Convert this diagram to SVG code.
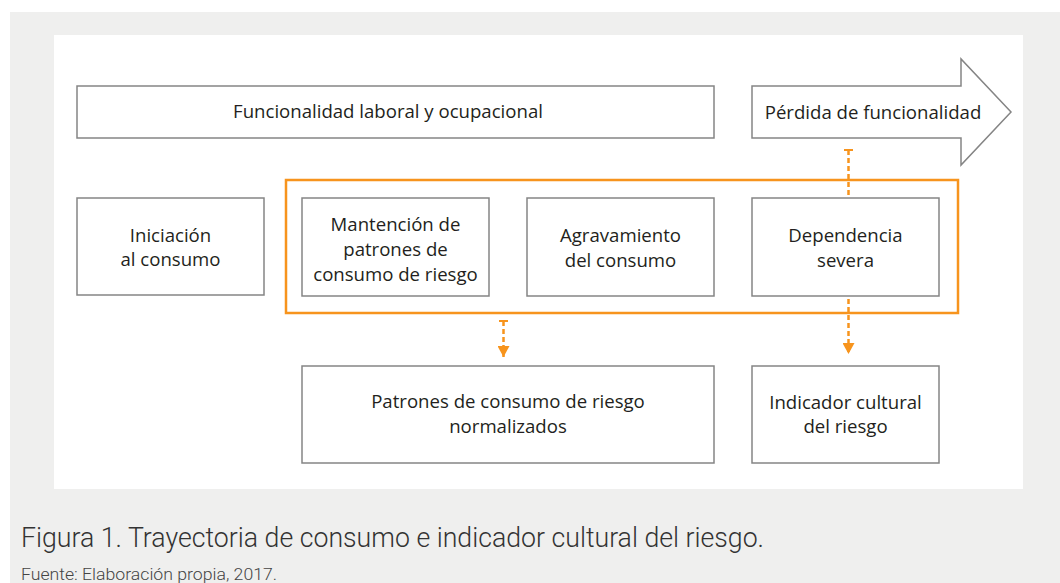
<svg xmlns="http://www.w3.org/2000/svg" width="1060" height="583" viewBox="0 0 1060 583">
<defs>
<style>
.box{fill:#ffffff;stroke:#858585;stroke-width:1.5}
.lbl{font-family:"Open Sans","Noto Sans",sans-serif;font-size:18.6px;fill:#231f20;text-anchor:middle}
.con{stroke:#f7941d;stroke-width:2.5;fill:none;stroke-dasharray:5 3}
.tick{stroke:#f7941d;stroke-width:2;fill:none}
</style>
<marker id="ah" viewBox="0 0 11 12" refX="11" refY="6" markerWidth="11" markerHeight="12" markerUnits="userSpaceOnUse" orient="auto">
<path d="M0,0 L11,6 L0,12 Z" fill="#f7941d"/>
</marker>
</defs>
<rect x="10" y="12" width="1050" height="571" fill="#efefee"/>
<rect x="54" y="35" width="969" height="454" fill="#ffffff"/>

<g id="funcionalidad">
<rect class="box" x="77" y="86" width="637" height="52"/>
<text class="lbl" x="388" y="118">Funcionalidad laboral y ocupacional</text>
</g>
<g id="perdida">
<path class="box" d="M752,86 L961,86 L961,59 L1011,112 L961,165 L961,138 L752,138 Z"/>
<text class="lbl" x="873" y="119">Pérdida de funcionalidad</text>
</g>
<g id="grupo">
<rect x="286" y="180" width="672" height="133" fill="none" stroke="#f7941d" stroke-width="2.5"/>
</g>
<g id="iniciacion">
<rect class="box" x="77" y="198" width="187" height="97"/>
<text class="lbl" x="170.5" y="242">Iniciación</text>
<text class="lbl" x="170.5" y="266">al consumo</text>
</g>
<g id="mantencion">
<rect class="box" x="302" y="198" width="187" height="98"/>
<text class="lbl" x="395.5" y="231">Mantención de</text>
<text class="lbl" x="395.5" y="256">patrones de</text>
<text class="lbl" x="395.5" y="281">consumo de riesgo</text>
</g>
<g id="agravamiento">
<rect class="box" x="527" y="198" width="187" height="98"/>
<text class="lbl" x="620.5" y="242">Agravamiento</text>
<text class="lbl" x="620.5" y="267">del consumo</text>
</g>
<g id="dependencia">
<rect class="box" x="752" y="198" width="187" height="98"/>
<text class="lbl" x="845.5" y="242">Dependencia</text>
<text class="lbl" x="845.5" y="267">severa</text>
</g>
<g id="patrones">
<rect class="box" x="302" y="366" width="412" height="97"/>
<text class="lbl" x="508" y="408">Patrones de consumo de riesgo</text>
<text class="lbl" x="508" y="433">normalizados</text>
</g>
<g id="indicador">
<rect class="box" x="752" y="366" width="187" height="97"/>
<text class="lbl" x="845.5" y="409">Indicador cultural</text>
<text class="lbl" x="845.5" y="433">del riesgo</text>
</g>

<g id="conectores">
<line class="tick" x1="844" y1="150" x2="853" y2="150"/>
<line class="con" x1="848.5" y1="150" x2="848.5" y2="196"/>
<line class="con" x1="848.5" y1="299" x2="848.5" y2="354" marker-end="url(#ah)"/>
<line class="tick" x1="499" y1="321" x2="508" y2="321"/>
<line class="con" x1="503.5" y1="321" x2="503.5" y2="357" marker-end="url(#ah)"/>
</g>

<text x="21" y="547" font-family="Roboto,'Open Sans',sans-serif" font-weight="300" font-size="28" fill="#333333" textLength="743" lengthAdjust="spacingAndGlyphs">Figura 1. Trayectoria de consumo e indicador cultural del riesgo.</text>
<text x="21" y="580" font-family="Roboto,'Open Sans',sans-serif" font-weight="300" font-size="16" fill="#444444" textLength="256" lengthAdjust="spacingAndGlyphs">Fuente: Elaboración propia, 2017.</text>
</svg>
